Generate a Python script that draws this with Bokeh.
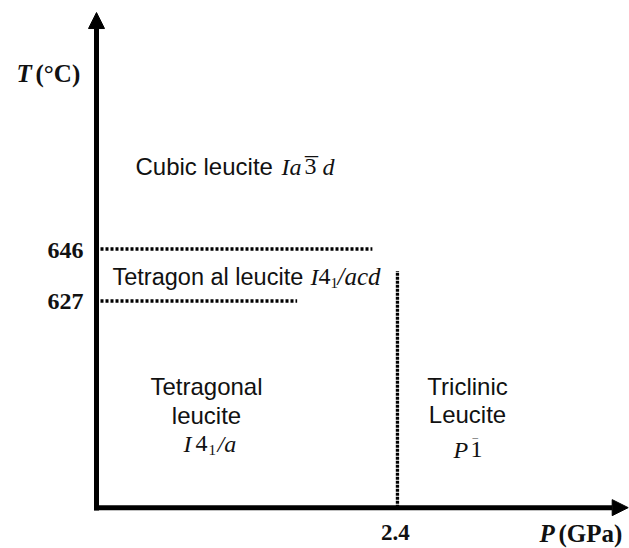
from bokeh.plotting import figure
from bokeh.models import Range1d, Arrow, NormalHead
from bokeh.core.properties import value
from bokeh.embed import file_html
from bokeh.resources import INLINE

# ---- data (schematic phase diagram of leucite) ----
T_ticks = [646, 627]            # transition temperatures (degC)
T_tick_labels = ["646", "627"]
P_ticks = [2.4]                 # transition pressure (GPa)
P_tick_labels = ["2.4"]
h_bound_T = [646, 627]          # horizontal dotted boundaries
h_bound_P_end = [2.2, 1.6]      # where they stop (GPa)
v_bound_P = [2.4]               # vertical dotted boundary
v_bound_T_top = [638]           # where it stops (degC)
T_axis_min = 551.5              # schematic axis origin
T_axis_max = 732.4
P_axis_max = 4.24

# ---- layout helpers (picture px -> data), layout only ----
PX_P = 125.4
PX_T = 52 / 19.0
def X(px):
    return (px - 96) / PX_P
def Y(py):
    return 646 - (py - 248.5) / PX_T

W, H = 629, 548
p = figure(width=W, height=H, output_backend="svg", toolbar_location=None,
           x_range=Range1d(X(0), X(W)), y_range=Range1d(Y(H), Y(0)),
           min_border=0)
p.axis.visible = False
p.grid.visible = False
p.outline_line_color = None
p.background_fill_color = "white"

# axes with arrows
p.add_layout(Arrow(x_start=0, y_start=Y(510), x_end=0, y_end=T_axis_max,
                   line_width=5, line_color="black",
                   end=NormalHead(size=16, fill_color="black", line_color="black")))
p.add_layout(Arrow(x_start=X(93.5), y_start=T_axis_min, x_end=P_axis_max, y_end=T_axis_min,
                   line_width=5, line_color="black",
                   end=NormalHead(size=16, fill_color="black", line_color="black")))

# dotted phase boundaries
p.segment(x0=[X(100)] * len(h_bound_T), y0=h_bound_T, x1=h_bound_P_end, y1=h_bound_T,
          line_width=3.3, line_color="black", line_dash="3 2")
p.segment(x0=v_bound_P, y0=[T_axis_min] * len(v_bound_P), x1=v_bound_P, y1=v_bound_T_top,
          line_width=3.3, line_color="black", line_dash="3 1")

serif = value("Liberation Serif")
sans = value("Liberation Sans")
FS = 24

# tick labels
p.text(x=[X(83)] * len(T_ticks), y=T_ticks, text=T_tick_labels, text_font=serif,
       text_font_style="bold", text_font_size="24px", text_align="right",
       text_baseline="alphabetic", y_offset=[1.5, 0], text_color="#111111")
p.text(x=P_ticks, y=[T_axis_min] * len(P_ticks), text=P_tick_labels, text_font=serif,
       text_font_style="bold", text_font_size="23px", text_align="center",
       text_baseline="alphabetic", x_offset=-2, y_offset=24.5, text_color="#111111")

def t(px, py, s, font=sans, style="normal", size=FS, align="left", corr=True):
    shift = 0.37 * size if corr else 0
    p.text(x=[X(px)], y=[Y(py - shift)], text=[s], text_font=font, text_font_style=style,
           text_font_size=f"{size}px", text_align=align, text_baseline="alphabetic",
           text_color="#111111")

# axis titles
t(16, 82, "T", serif, "bold italic", 25)
t(35, 82, "(°C)", serif, "bold", 25)
t(539, 542, "P", serif, "bold italic", 25)
t(558, 542, "(GPa)", serif, "bold", 25)

# Cubic leucite Ia-3d
t(135, 175, "Cubic leucite", sans)
t(281, 175, "Ia", serif, "italic")
t(304, 175, "3", serif)
t(304.5, 165.5, "\u00af", serif, "normal", 26, corr=False)
t(322, 175, "d", serif, "italic")

# Tetragonal leucite I4_1/acd
t(112, 285, "Tetragon al leucite", sans, size=23.5)
t(310, 285, "I", serif, "italic")
t(318, 285, "4", serif)
t(330, 288, "1", serif, "normal", 15)
t(337, 285, "/acd", serif, "italic", 25)

# Tetragonal leucite I4_1/a
t(206, 395, "Tetragonal", sans, align="center")
t(206, 424, "leucite", sans, align="center")
t(183, 452, "I", serif, "italic")
t(195, 452, "4", serif)
t(208, 455, "1", serif, "normal", 15)
t(217, 452, "/a", serif, "italic")

# Triclinic leucite P-1
t(467, 395, "Triclinic", sans, align="center")
t(467, 423, "Leucite", sans, align="center")
t(453, 458, "P", serif, "italic")
t(470, 458, "1", serif)
t(472, 441, "\u00af", serif, "normal", 11, corr=False)

open("out.html", "w").write(file_html(p, INLINE))
